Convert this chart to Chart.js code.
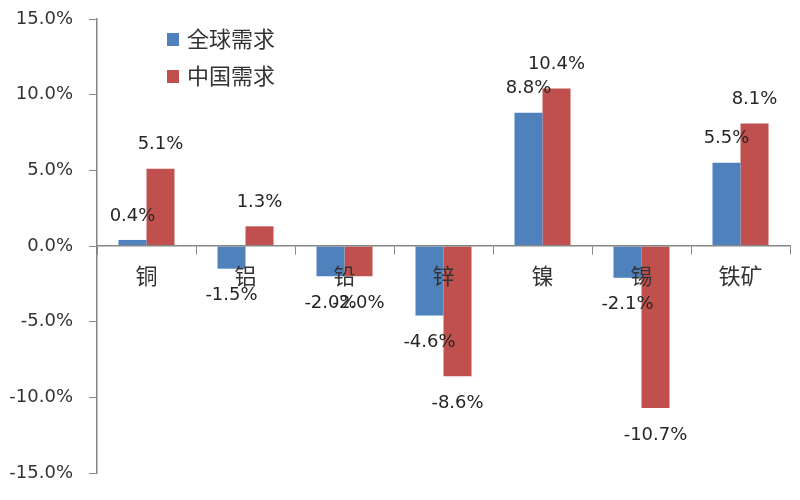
<!DOCTYPE html>
<html>
<head>
<meta charset="utf-8">
<script src="https://cdn.jsdelivr.net/npm/chart.js@4.4.1/dist/chart.umd.min.js"></script>
<style>
  html, body { margin: 0; padding: 0; background: #fff; }
  #wrap { width: 800px; height: 500px; }
</style>
</head>
<body>
<div id="wrap"><canvas id="chart"></canvas></div>
<script>
const categories = ["铜", "铝", "铅", "锌", "镍", "锡", "铁矿"]
const globalDemand = [0.4, -1.5, -2.0, -4.6, 8.8, -2.1, 5.5]
const chinaDemand = [5.1, 1.3, -2.0, -8.6, 10.4, -10.7, 8.1]
const yTicks = [-15, -10, -5, 0, 5, 10, 15]

const numFont = "'DejaVu Sans', sans-serif"
const cjkFont = "'Noto Sans CJK SC', sans-serif"

// value labels above / below each bar
const barLabels = {
  id: "barLabels",
  afterDraw(chart) {
    const ctx = chart.ctx
    ctx.save()
    ctx.font = "18px " + numFont
    ctx.fillStyle = "#262626"
    ctx.textAlign = "center"
    ctx.textBaseline = "middle"
    chart.data.datasets.forEach((ds, i) => {
      chart.getDatasetMeta(i).data.forEach((bar, j) => {
        const v = ds.data[j]
        const y = v >= 0 ? bar.y - 24 : bar.y + 27
        ctx.fillText(v.toFixed(1) + "%", bar.x, y)
      })
    })
    ctx.restore()
  },
}

// legend drawn inside the plot, top left, stacked
const innerLegend = {
  id: "innerLegend",
  afterDraw(chart) {
    const ctx = chart.ctx
    ctx.save()
    ctx.font = "22px " + cjkFont
    ctx.textBaseline = "middle"
    chart.data.datasets.forEach((ds, i) => {
      const y = 39 + i * 37
      ctx.fillStyle = ds.backgroundColor
      ctx.fillRect(167, y - 6, 12, 13)
      ctx.fillStyle = "#333"
      ctx.fillText(ds.label, 187, y)
    })
    ctx.restore()
  },
}

new Chart(document.getElementById("chart").getContext("2d"), {
  type: "bar",
  data: {
    labels: categories,
    datasets: [
      {
        label: "全球需求",
        data: globalDemand,
        backgroundColor: "#4F81BD",
      },
      {
        label: "中国需求",
        data: chinaDemand,
        backgroundColor: "#C0504D",
      },
    ],
  },
  options: {
    responsive: true,
    maintainAspectRatio: false,
    animation: false,
    categoryPercentage: 0.566,
    barPercentage: 1.0,
    layout: {
      padding: { top: 19, right: 10, bottom: 27, left: 0 },
    },
    plugins: {
      legend: { display: false },
      tooltip: { enabled: false },
    },
    scales: {
      x: {
        position: { y: 0 },
        grid: {
          offset: true,
          drawOnChartArea: false,
          drawTicks: true,
          tickLength: 8,
          color: "#868686",
          z: 1,
        },
        border: { color: "#868686", width: 1.5, z: 1 },
        ticks: {
          color: "#333",
          font: { family: cjkFont, size: 22 },
          padding: 8,
          z: 2,
        },
      },
      y: {
        min: -15,
        max: 15,
        afterBuildTicks: (scale) => {
          scale.ticks = yTicks.map((v) => ({ value: v }))
        },
        afterFit: (scale) => {
          scale.width = 97
          scale.paddingTop = 0
          scale.paddingBottom = 0
        },
        grid: {
          drawOnChartArea: false,
          drawTicks: true,
          tickLength: 8,
          color: "#868686",
        },
        border: { color: "#868686", width: 1.5 },
        ticks: {
          color: "#333",
          font: { family: numFont, size: 18 },
          padding: 16,
          callback: (v) => v.toFixed(1) + "%",
        },
      },
    },
  },
  plugins: [barLabels, innerLegend],
})
</script>
</body>
</html>
